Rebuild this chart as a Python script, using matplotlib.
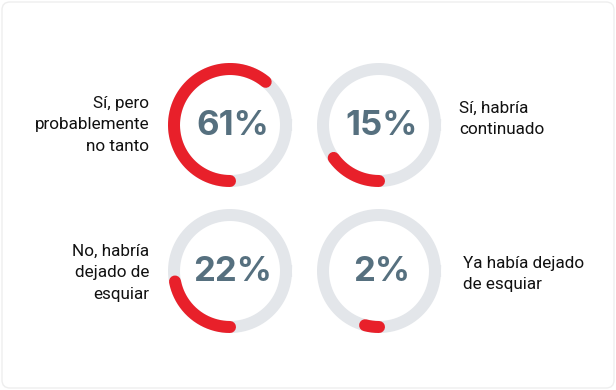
import numpy as np
import matplotlib.pyplot as plt
from matplotlib.patches import FancyBboxPatch

# Data from the image
values = [61, 15, 22, 2]
pct_labels = ["61%", "15%", "22%", "2%"]
answers = ["Sí, pero\nprobablemente\nno tanto",
           "Sí, habría\ncontinuado",
           "No, habría\ndejado de\nesquiar",
           "Ya había dejado\nde esquiar"]

red = "#E8202A"
track = "#E3E6EA"
num_color = "#56707F"

# layout (pixels): ring centres and label anchors
centres = [(230, 125), (379, 125), (230, 271), (379, 271)]
label_pos = [(149, 125, "right"), (459, 119, "left"),
             (149, 273, "right"), (463, 274, "left")]
radius = 56
ring_w = 12 * 72 / 100  # 12 px in points
min_arc = 4  # very small shares still get a visible stub

fig = plt.figure(figsize=(6.16, 3.9), dpi=100)
ax = fig.add_axes([0, 0, 1, 1])
ax.set_xlim(0, 616)
ax.set_ylim(390, 0)
ax.set_aspect("equal")
ax.axis("off")

frame = FancyBboxPatch((2, 2), 612, 386, boxstyle="round,pad=0,rounding_size=8",
                       fc="white", ec="#EEEEEE", lw=1.0)
ax.add_patch(frame)

for (cx, cy), v, pl, txt, (lx, ly, ha) in zip(centres, values, pct_labels, answers, label_pos):
    t = np.linspace(0, 2 * np.pi, 300)
    ax.plot(cx + radius * np.cos(t), cy + radius * np.sin(t), color=track, lw=ring_w)
    # red arc: starts at bottom, runs clockwise on screen
    a = np.linspace(0, max(v, min_arc) / 100 * 2 * np.pi, 200)
    ax.plot(cx - radius * np.sin(a), cy + radius * np.cos(a), color=red, lw=ring_w,
            solid_capstyle="round")
    ax.text(cx + 3, cy + 1, pl, ha="center", va="center", fontsize=25,
            fontweight="bold", color=num_color, family="Inter")
    ax.text(lx, ly, txt, ha=ha, va="center", fontsize=12.3, color="#111111",
            family="Roboto", linespacing=1.55, multialignment=ha)

fig.savefig("out.png", dpi=100)
